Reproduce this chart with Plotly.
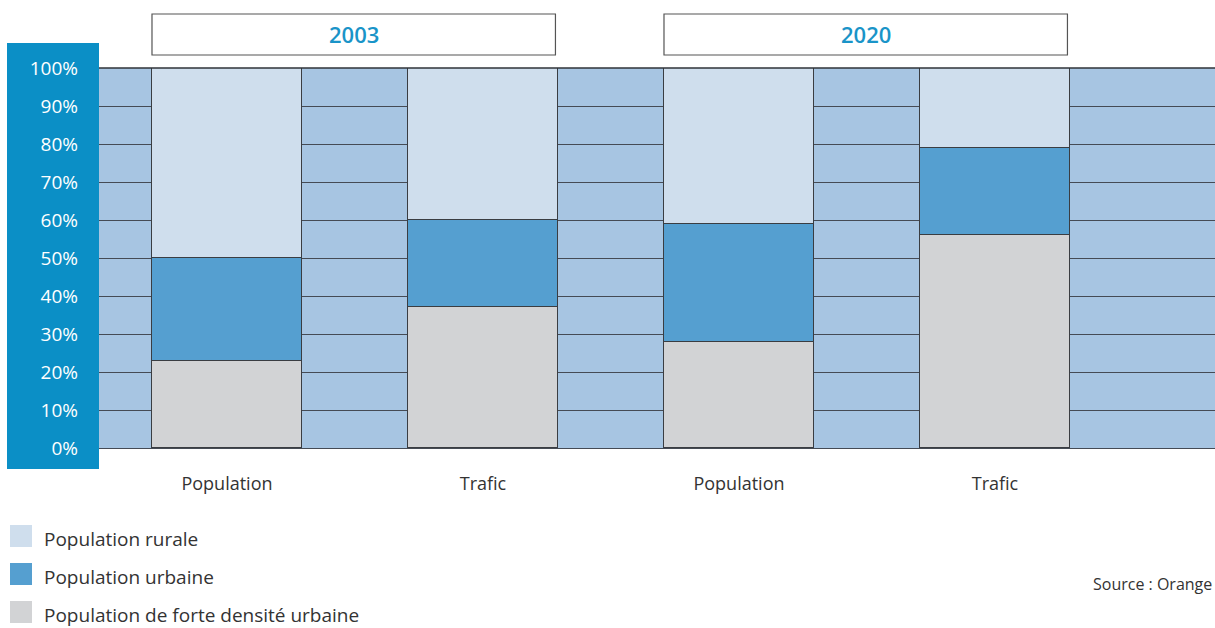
import plotly.graph_objects as go

# Data
bar_labels = ["Population", "Trafic", "Population", "Trafic"]
periods = ["2003", "2020"]
series_names = ["Population de forte densité urbaine", "Population urbaine", "Population rurale"]
dense = [23, 37, 28, 56]
urban = [27, 23, 31, 23]
rural = [50, 40, 41, 21]
y_ticks = [0, 10, 20, 30, 40, 50, 60, 70, 80, 90, 100]
y_tick_text = [f"{v}%" for v in y_ticks]
source_text = "Source : Orange"

# Styling
W, H = 1215, 628
M_L, M_R, M_T, M_B = 99, 0, 68, 180
FONT = "Open Sans"
TEXT = "#333333"
colors = {"dense": "#d2d3d5", "urban": "#559fd0", "rural": "#cfdeed"}
PLOT_BG = "#a7c5e2"
BAND = "#0b8fc6"
YEAR_COLOR = "#1a94c8"
OUTLINE = "#3a3d42"
BAR_W = 0.586

xs = list(range(len(bar_labels)))

fig = go.Figure()
for name, vals, key in [(series_names[0], dense, "dense"),
                        (series_names[1], urban, "urban"),
                        (series_names[2], rural, "rural")]:
    fig.add_trace(go.Bar(
        x=xs, y=vals, name=name, width=BAR_W,
        marker=dict(color=colors[key], line=dict(color=OUTLINE, width=1.2)),
        showlegend=False, hoverinfo="skip",
    ))

pw = W - M_L - M_R
ph = H - M_T - M_B


def px_x(p):
    return (p - M_L) / pw


def px_y(p):
    return (H - M_B - p) / ph


shapes = []
annotations = []

# Blue band behind the y tick labels
shapes.append(dict(type="rect", xref="paper", yref="paper", layer="below",
                   x0=px_x(7), x1=px_x(99), y0=px_y(469), y1=px_y(43),
                   fillcolor=BAND, line=dict(width=0)))

# Period header boxes above each pair of bars
for i, period in enumerate(periods):
    x0 = 2 * i - BAR_W / 2
    x1 = 2 * i + 1 + BAR_W / 2 - 0.01
    shapes.append(dict(type="rect", xref="x", yref="paper",
                       x0=x0, x1=x1, y0=px_y(55), y1=px_y(14),
                       fillcolor="white", line=dict(color="#555555", width=1.2)))
    annotations.append(dict(xref="x", yref="paper", x=(x0 + x1) / 2, y=px_y(34),
                            text=period, showarrow=False, xanchor="center", yanchor="middle",
                            font=dict(family=FONT, size=22, color=YEAR_COLOR, weight=600)))

# Top border of the plot area
shapes.append(dict(type="line", xref="paper", yref="paper", x0=0, x1=1, y0=1, y1=1,
                   line=dict(color="#2f3338", width=1.5)))

# Legend
legend_items = [(series_names[2], colors["rural"], 536),
                (series_names[1], colors["urban"], 574),
                (series_names[0], colors["dense"], 612)]
for name, col, cy in legend_items:
    shapes.append(dict(type="rect", xref="paper", yref="paper",
                       x0=px_x(10), x1=px_x(32), y0=px_y(cy + 11), y1=px_y(cy - 11),
                       fillcolor=col, line=dict(width=0)))
    annotations.append(dict(xref="paper", yref="paper", x=px_x(42), y=px_y(cy + 3),
                            text=name, showarrow=False, xanchor="left", yanchor="middle",
                            font=dict(family=FONT, size=19, color=TEXT)))

annotations.append(dict(xref="paper", yref="paper", x=px_x(1214), y=px_y(584),
                        text=source_text, showarrow=False, xanchor="right", yanchor="middle",
                        font=dict(family=FONT, size=16, color=TEXT)))

fig.update_layout(
    width=W, height=H,
    margin=dict(l=M_L, r=M_R, t=M_T, b=M_B),
    barmode="stack", bargap=0,
    paper_bgcolor="white", plot_bgcolor=PLOT_BG,
    shapes=shapes, annotations=annotations,
    showlegend=False,
    font=dict(family=FONT, color=TEXT),
)
fig.update_xaxes(
    range=[-0.5, (W - M_R - 227) / 256], tickvals=xs, ticktext=bar_labels,
    showgrid=False, zeroline=False, showline=False,
    ticks="outside", ticklen=0, tickcolor="rgba(0,0,0,0)", ticklabelstandoff=19,
    tickfont=dict(family=FONT, size=18, color=TEXT), fixedrange=True,
)
fig.update_yaxes(
    range=[0, 100], tickvals=y_ticks, ticktext=y_tick_text,
    showgrid=True, gridcolor="#454b55", gridwidth=1.3,
    zeroline=True, zerolinecolor="#454b55", zerolinewidth=1.3,
    showline=False, ticks="", ticklabelstandoff=20,
    tickfont=dict(family=FONT, size=19, color="white"), fixedrange=True,
)

fig.write_html("out.html")
